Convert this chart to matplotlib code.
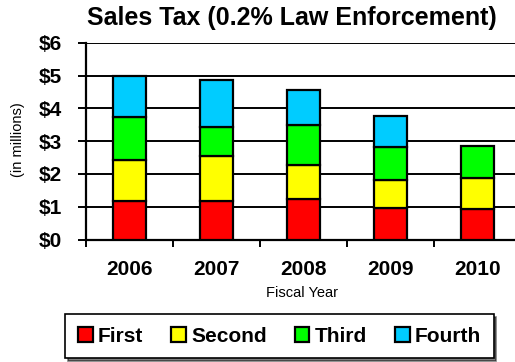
import matplotlib

matplotlib.use("Agg")
import matplotlib.pyplot as plt  # noqa: E402
import numpy as np  # noqa: E402

plt.rcParams["font.family"] = ["Liberation Sans", "DejaVu Sans"]

years = ["2006", "2007", "2008", "2009", "2010"]
# quarterly collections, $ millions
first = [1.17, 1.17, 1.22, 0.97, 0.92]
second = [1.25, 1.37, 1.05, 0.84, 0.94]
third = [1.30, 0.88, 1.22, 1.00, 0.99]
fourth = [1.26, 1.44, 1.07, 0.95, 0.0]

series = [("First", first, "#ff0000"), ("Second", second, "#ffff00"),
          ("Third", third, "#00ff00"), ("Fourth", fourth, "#00ccff")]
yticks = [0, 1, 2, 3, 4, 5, 6]

fig = plt.figure(figsize=(5.15, 3.62), dpi=100)
# axes runs slightly off the right edge, as in the original export
ax = fig.add_axes([86 / 515, 1 - 239.5 / 362, 435 / 515, (239.5 - 42.7) / 362])

x = np.arange(len(years))
bottom = np.zeros(len(years))
for name, vals, color in series:
    vals = np.array(vals)
    mask = vals > 0
    ax.bar(x[mask], vals[mask], 0.37, bottom=bottom[mask], color=color,
           edgecolor="black", linewidth=1.6, label=name, zorder=3)
    bottom += vals

ax.set_xlim(-0.5, len(years) - 0.5)
ax.set_ylim(0, 6)
ax.set_yticks(yticks)
ax.set_yticklabels([f"${v}" for v in yticks], fontsize=15, fontweight="bold")
ax.yaxis.grid(True, color="black", linewidth=1.4, zorder=0)
ax.set_axisbelow(True)

ax.set_xticks(x)
ax.set_xticklabels(years, fontsize=15, fontweight="bold")
ax.set_xticks(np.arange(len(years) + 1) - 0.5, minor=True)
ax.tick_params(axis="x", which="major", length=0, pad=15)
ax.tick_params(axis="x", which="minor", length=5, width=1.4, direction="out")
ax.tick_params(axis="y", length=6, width=1.4, pad=11)

for side in ("top", "right"):
    ax.spines[side].set_visible(False)
ax.spines["left"].set_linewidth(1.6)
ax.spines["bottom"].set_linewidth(1.6)

fig.text(292 / 515, 1 - 18 / 362, "Sales Tax (0.2% Law Enforcement)", ha="center",
         va="center", fontsize=18, fontweight="bold")
fig.text(18 / 515, 1 - 140 / 362, "(in millions)", rotation=90, ha="center",
         va="center", fontsize=10.5)
fig.text(302 / 515, 1 - 293 / 362, "Fiscal Year", ha="center", va="center", fontsize=10.5)

leg = fig.legend(loc="center", bbox_to_anchor=(279.5 / 515, 1 - 336 / 362), ncol=4,
                 frameon=True, fancybox=False, shadow={"color": "black"},
                 handlelength=0.7, handleheight=0.7, handletextpad=0.25,
                 columnspacing=1.35, borderpad=0.6, borderaxespad=0,
                 prop={"weight": "bold", "size": 15})
leg.get_frame().set_edgecolor("black")
leg.get_frame().set_linewidth(1.2)
for h in leg.legend_handles:
    h.set_linewidth(1.6)

fig.savefig("out.png", dpi=100)
